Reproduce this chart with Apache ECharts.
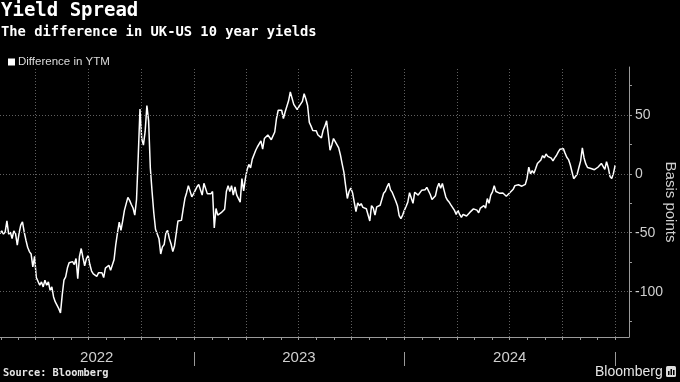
<!DOCTYPE html>
<html>
<head>
<meta charset="utf-8">
<script src="https://cdn.jsdelivr.net/npm/echarts@6/dist/echarts.min.js"></script>
<style>
  html, body { margin: 0; padding: 0; background: #000; }
  #chart { width: 680px; height: 382px; }
</style>
</head>
<body>
<div id="chart"></div>
<script>
// ---- data ----
const startDate = [2022, 0, 29];   // first observation (y, m0, d)
const stepDays = 3;                // spacing of observations in days
const spreadBp = [
  -50.7, -48.4, -51.2, -49.3, -40, -51.2, -49.5, -54.9, -48.4, -50.7,
  -60.6, -50.7, -43.6, -40.8, -49.3, -56.3, -62.3, -66, -68, -79,
  -70, -88, -88.9, -94.6, -91.7, -96, -90.3, -94.6, -91.7, -98.8,
  -96, -104.5, -108.7, -107.3, -114.4, -118, -103, -90.3, -87.5, -80,
  -75.5, -75.5, -74.5, -77, -71.9, -88.9, -70, -63.4, -71, -78,
  -72, -69.5, -77, -82.5, -85, -85, -87, -84, -85, -84,
  -88, -80, -81.5, -77.6, -81.8, -83.2, -73, -60, -50, -41,
  -48, -40, -31, -25.5, -20, -22.5, -26, -29, -35, -22,
  15, 55, 30, 24.4, 36, 58, 45, 5, -15, -33,
  -47, -51, -55, -68, -62, -60, -50, -48, -55, -59.5,
  -66, -61, -60, -40, -41, -39.5, -30, -21, -16, -10,
  -11, -19.5, -17, -18, -11, -9, -9, -18, -8, -9.5,
  -17, -16, -17, -15, -46, -29.4, -35, -35, -33, -33.5,
  -30, -15, -10, -15, -10, -18, -11, -18, -16.5, -24,
  -4, -14.5, -4, 3.5, 8, 5, 12.5, 13, 20, 23,
  24, 28, 21, 30, 31.5, 33, 32, 29, 27.5, 35.5,
  47, 54, 52.7, 54, 47, 52.5, 52, 62, 69.5, 68,
  59, 59.5, 54.5, 57, 55.5, 61.5, 68, 63.5, 58, 43.7,
  40.5, 36.8, 36.5, 36.5, 33, 32.5, 30.5, 37, 40.5, 45,
  33, 20.1, 24.5, 30, 27.4, 27.8, 22, 16, 8.5, 1.5,
  -10, -20.9, -15, -12, -16, -16.5, -32, -24.6, -27, -25.3,
  -28.5, -28.5, -29.6, -28, -40, -27, -29, -35, -28, -29.4,
  -26.7, -27, -16.5, -14.8, -11, -8, -13.6, -15.8, -17, -23,
  -27, -35.5, -38, -35, -31, -27.7, -24, -16, -14.5, -25,
  -15.6, -16.9, -18, -16.5, -14, -12.8, -13.5, -11.5, -11.5, -17.5,
  -21.7, -21.2, -18.5, -11.8, -7.9, -12.2, -8.2, -14, -19.7, -22.5,
  -24.2, -26.6, -27.2, -31, -34.5, -30.9, -34.5, -37, -34.5, -33,
  -35.8, -37, -32.5, -32.6, -29.7, -30, -30.8, -33, -29, -30.5,
  -27, -29, -21, -25, -18, -15.3, -10, -15, -14, -16.4,
  -15.6, -16.3, -16, -19, -19, -16, -14.7, -13, -10, -9.8,
  -9.3, -10.8, -10.5, -10.6, -8.9, -3.7, 5.7, 0, 2.7, 0.5,
  4.5, 8.8, 10.2, 11.8, 15.5, 13.6, 16.8, 14.8, 15.5, 13.3,
  11, 13.6, 15.6, 18.5, 20.8, 22.3, 21.4, 17.6, 14.1, 12.1,
  7.7, 1.8, -4.1, -4.2, -0.3, 5.4, 11, 22, 13.5, 8.4,
  5.4, 3.9, 4.6, 3.5, 3.5, 2.7, 5.6, 5.4, 8.8, 8,
  3.8, 10.4, 5.2, -2.2, -3.9, 0.4, 7.4
];
const seriesName = 'Difference in YTM';
const yLabelValues = [-100, -50, 0, 50];
const yTickValues = [-125, -100, -75, -50, -25, 0, 25, 50, 75];
const yGridValues = [-100, -50, 0, 50];
const yRange = [-138.5, 90.7];
const xRange = ['2022-01-29', '2025-01-25'];
const yearLabels = [[2022, '2022-07-16'], [2023, '2023-07-02'], [2024, '2024-07-02']];
const yearBounds = ['2023-01-01', '2024-01-01', '2025-01-01'];
const quarterStarts = ['2022-04-01','2022-07-01','2022-10-01','2023-01-01','2023-04-01','2023-07-01','2023-10-01',
  '2024-01-01','2024-04-01','2024-07-01','2024-10-01','2025-01-01'];
const monthStarts = [];
for (let y = 2022; y <= 2025; y++) for (let m = 0; m < 12; m++) monthStarts.push(new Date(y, m, 1).getTime());

// ---- build ----
function ts(s) { const p = s.split('-').map(Number); return new Date(p[0], p[1] - 1, p[2]).getTime(); }
const dates = spreadBp.map((_, i) => new Date(startDate[0], startDate[1], startDate[2] + i * stepDays).getTime());
const lineData = spreadBp.map((v, i) => [dates[i], v]);
const xMin = ts(xRange[0]), xMax = ts(xRange[1]);
const inX = v => v >= xMin && v <= xMax;

const NARROW = '"Liberation Sans Narrow", "Liberation Sans", Arial, sans-serif';
const MONO = '"DejaVu Sans Mono", monospace';
const AXIS = '#9a9a9a';
const LABEL = '#cfcfcf';
const GRID = '#606060';

const yearMap = {};
yearLabels.forEach(d => { yearMap[ts(d[1])] = String(d[0]); });

const chart = echarts.init(document.getElementById('chart'), null, { renderer: 'canvas' });
chart.setOption({
  backgroundColor: '#000',
  animation: false,
  grid: { left: 0, right: 51, top: 67, bottom: 45, containLabel: false, outerBoundsMode: 'none' },
  legend: {
    data: [seriesName], left: 3, top: 51, icon: 'rect', itemWidth: 7, itemHeight: 7, itemGap: 4,
    textStyle: { color: '#dcdcdc', fontSize: 11.5, fontFamily: NARROW, padding: [0, 0, 0, -2] },
    selectedMode: false
  },
  xAxis: [{
    type: 'value', min: xMin, max: xMax, scale: true,
    axisLine: { onZero: false, lineStyle: { color: AXIS, width: 1 } },
    axisTick: { customValues: monthStarts.filter(inX), length: 3, lineStyle: { color: AXIS } },
    axisLabel: {
      customValues: yearLabels.map(d => ts(d[1])),
      formatter: v => yearMap[v] || '',
      color: LABEL, fontSize: 15, fontFamily: NARROW, margin: 13
    },
    splitLine: { show: false }
  }, {
    type: 'value', min: xMin, max: xMax, scale: true, position: 'bottom', offset: 15,
    axisLine: { show: false, onZero: false },
    axisTick: { customValues: yearBounds.map(ts), length: 14, lineStyle: { color: AXIS } },
    axisLabel: { show: false },
    splitLine: { show: false }
  }],
  yAxis: {
    type: 'value', position: 'right', min: yRange[0], max: yRange[1],
    name: 'Basis points', nameLocation: 'middle', nameRotate: -90, nameGap: 34, nameMoveOverlap: false,
    nameTextStyle: { color: LABEL, fontSize: 15, fontFamily: NARROW },
    axisLine: { show: true, onZero: false, lineStyle: { color: AXIS, width: 1 } },
    axisTick: { show: true, customValues: yTickValues, length: 3, lineStyle: { color: AXIS } },
    axisLabel: { customValues: yLabelValues, color: LABEL, fontSize: 14, fontFamily: NARROW, margin: 6 },
    splitLine: { show: false }
  },
  series: [{
    name: 'grid', type: 'line', data: lineData, z: 1, silent: true,
    showSymbol: false, symbol: 'none', lineStyle: { width: 0, color: 'rgba(0,0,0,0)' },
    markLine: {
      silent: true, symbol: ['none', 'none'], label: { show: false }, animation: false,
      lineStyle: { color: GRID, type: [1, 2], width: 1, opacity: 1 },
      emphasis: { disabled: true },
      data: yGridValues.map(v => ({ yAxis: v })).concat(quarterStarts.map(d => ({ xAxis: ts(d) })))
    }
  }, {
    name: seriesName, type: 'line', data: lineData, z: 3,
    showSymbol: false, symbol: 'none', lineStyle: { color: '#ffffff', width: 1.5 }, itemStyle: { color: '#ffffff' }
  }],
  graphic: [
    { type: 'text', left: 1, top: 2, style: { text: 'Yield Spread', fill: '#fff', font: 'bold 19px ' + MONO } },
    { type: 'text', left: 1, top: 25, style: { text: 'The difference in UK-US 10 year yields', fill: '#fff', font: 'bold 13.8px ' + MONO } },
    { type: 'text', left: 3, top: 368, style: { text: 'Source: Bloomberg', fill: '#e6e6e6', font: 'bold 10.3px ' + MONO } },
    { type: 'text', left: 595, top: 365, style: { text: 'Bloomberg', fill: '#e6e6e6', font: '14px "Liberation Sans", Arial, sans-serif' } },
    { type: 'rect', shape: { x: 666, y: 366, width: 10, height: 11, r: 1.5 }, style: { fill: '#dcdcdc' } },
    { type: 'rect', shape: { x: 668, y: 371, width: 1.5, height: 4 }, style: { fill: '#000' } },
    { type: 'rect', shape: { x: 670.5, y: 369, width: 1.5, height: 6 }, style: { fill: '#000' } },
    { type: 'rect', shape: { x: 673, y: 370, width: 1.5, height: 5 }, style: { fill: '#000' } }
  ]
});
</script>
</body>
</html>
